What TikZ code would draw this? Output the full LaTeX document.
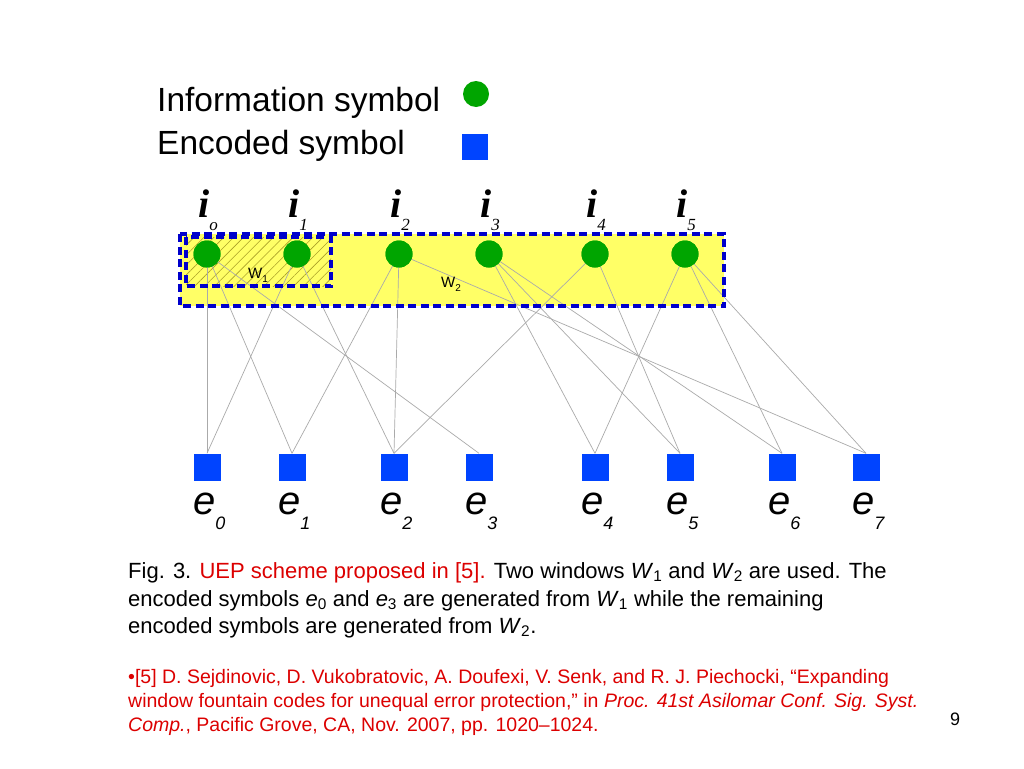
\documentclass[tikz,border=0pt]{standalone}
\usepackage{fontspec}
\setmainfont{Liberation Sans}
\newfontfamily\serfam{Liberation Serif}
\usetikzlibrary{patterns.meta}
\definecolor{infog}{RGB}{0,165,0}
\definecolor{encb}{RGB}{0,68,255}
\definecolor{yel}{RGB}{255,255,102}
\definecolor{dashb}{RGB}{0,0,204}
\definecolor{refred}{RGB}{220,0,0}
\definecolor{edgec}{RGB}{170,170,170}
\definecolor{hatchc}{RGB}{170,160,40}
\newcommand\isubtxt[1]{{\mdseries\fontsize{17}{17}\selectfont\raisebox{-13pt}{#1}}}
\newcommand\esubtxt[1]{{\fontsize{18}{18}\selectfont\raisebox{-15pt}{#1}}}
\begin{document}
\begin{tikzpicture}[x=1pt,y=-1pt,
  info/.style={circle,fill=infog,minimum size=27pt,inner sep=0pt},
  enc/.style={rectangle,fill=encb,minimum size=27pt,inner sep=0pt},
  edge/.style={draw=edgec,line width=0.7pt},
  win/.style={draw=dashb,line width=3.5pt,dash pattern=on 8pt off 4.5pt},
  txt/.style={anchor=base west,inner sep=0pt},
  ilab/.style={anchor=base west,inner sep=0pt,font=\serfam\bfseries\itshape\fontsize{40}{40}\selectfont},
  elab/.style={anchor=base west,inner sep=0pt,font=\itshape\fontsize{40}{40}\selectfont},
  wlab/.style={anchor=base west,inner sep=0pt,font=\fontsize{15}{15}\selectfont}]
\useasboundingbox (0,0) rectangle (1024,768);
\fill[white] (0,0) rectangle (1024,768);

% legend
\node[txt,font=\fontsize{33.5}{38}\selectfont] (leg1) at (157,111) {Information symbol};
\node[txt,font=\fontsize{33.5}{38}\selectfont] (leg2) at (157,154) {Encoded symbol};
\node[info,minimum size=26pt] (legc) at (476,94) {};
\node[enc,minimum size=26pt] (legs) at (475,147) {};

% windows background
\fill[yel] (180,234) rectangle (724,306);
\fill[pattern={Lines[angle=45,distance=7pt,line width=0.6pt]},pattern color=hatchc] (186,237) rectangle (331,286);

% coordinates of info nodes
\coordinate (pi0) at (207,254);
\coordinate (pi1) at (297,254);
\coordinate (pi2) at (399,254);
\coordinate (pi3) at (489,254);
\coordinate (pi4) at (595,254);
\coordinate (pi5) at (685,254);

% encoded nodes
\node[enc] (e0) at (207,467) {};
\node[enc] (e1) at (292,467) {};
\node[enc] (e2) at (394,467) {};
\node[enc] (e3) at (479,467) {};
\node[enc] (e4) at (595,467) {};
\node[enc] (e5) at (680,467) {};
\node[enc] (e6) at (782,467) {};
\node[enc] (e7) at (866,467) {};

% info nodes
\node[info] (i0) at (pi0) {};
\node[info] (i1) at (pi1) {};
\node[info] (i2) at (pi2) {};
\node[info] (i3) at (pi3) {};
\node[info] (i4) at (pi4) {};
\node[info] (i5) at (pi5) {};

% edges
\foreach \a/\b in {i0/e0,i0/e1,i0/e3,i1/e0,i1/e2,i2/e1,i2/e2,i2/e7,i3/e4,i3/e5,i3/e6,i4/e2,i4/e5,i5/e4,i5/e6,i5/e7}
  \draw[edge] (\a.center) -- (\b.north);

% redraw info discs on top of edges
\foreach \k in {0,...,5} \fill[infog] (pi\k) circle (13.5pt);

% dashed windows
\draw[win] (180,234) rectangle (724,306);
\draw[win] (186,237) rectangle (331,286);
\node[wlab] (w1) at (248,278) {W{\fontsize{10}{10}\selectfont\raisebox{-4pt}{1}}};
\node[wlab] (w2) at (441,287) {W{\fontsize{10}{10}\selectfont\raisebox{-4pt}{2}}};

% info labels
\foreach \k/\x in {0/207,1/297,2/399,3/489,4/595,5/685}{
  \node[ilab] (il\k) at (\x-9,217) {i\isubtxt{\ifnum\k=0 o\else\k\fi}};
}

% encoded labels
\foreach \k/\x in {0/207,1/292,2/394,3/479,4/595,5/680,6/782,7/866}{
  \node[elab] (el\k) at (\x-14,514) {e\esubtxt{\k}};
}

% caption
\begin{scope}[font=\fontsize{22}{27}\selectfont]
\node[txt] (c1) at (128,578) {Fig. 3. \textcolor{refred}{UEP scheme proposed in [5].} Two windows \textit{W}\textsubscript{1} and \textit{W}\textsubscript{2} are used. The};
\node[txt] (c2) at (128,606) {encoded symbols \textit{e}\textsubscript{0} and \textit{e}\textsubscript{3} are generated from \textit{W}\textsubscript{1} while the remaining};
\node[txt] (c3) at (128,633) {encoded symbols are generated from \textit{W}\textsubscript{2}.};
\end{scope}
\begin{scope}[font=\fontsize{19.5}{23}\selectfont,text=refred]
\node[txt] (r1) at (128,683) {•[5] D. Sejdinovic, D. Vukobratovic, A. Doufexi, V. Senk, and R. J. Piechocki, “Expanding};
\node[txt] (r2) at (128,707) {window fountain codes for unequal error protection,” in \textit{Proc. 41st Asilomar Conf. Sig. Syst.}};
\node[txt] (r3) at (128,731) {\textit{Comp.}, Pacific Grove, CA, Nov. 2007, pp. 1020–1024.};
\end{scope}
\node[txt,font=\fontsize{18}{20}\selectfont] (pg) at (950,725) {9};
\end{tikzpicture}
\end{document}
